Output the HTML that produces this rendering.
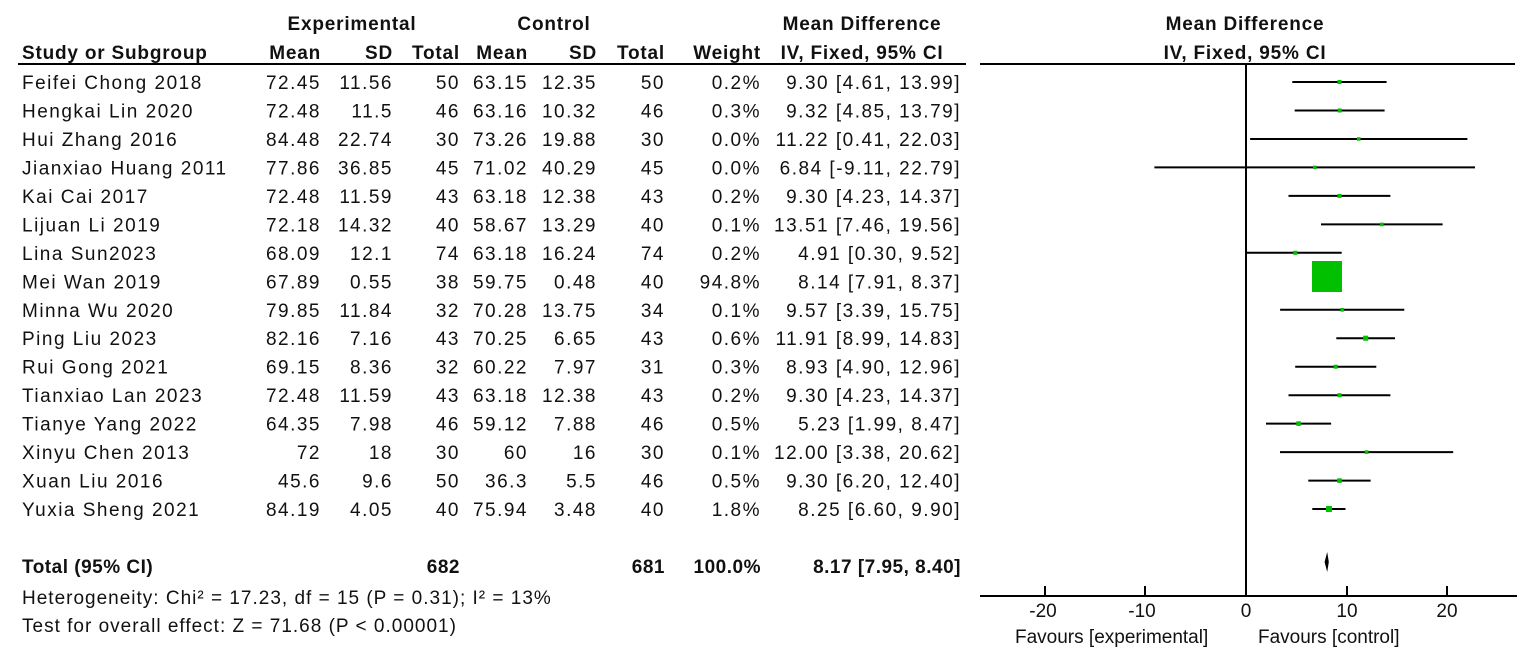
<!DOCTYPE html><html><head><meta charset="utf-8"><style>
body{margin:0;background:#fff}
svg{display:block}
text{font-family:"Liberation Sans",Arial,sans-serif;font-size:19px;fill:#111}
.b{font-weight:bold}
.r{text-anchor:end}
.c{text-anchor:middle}
#rows text{letter-spacing:1.5px}
.h text{letter-spacing:0.8px}
.t text{letter-spacing:0.5px}
.f{letter-spacing:1px}
</style></head><body>
<svg width="1535" height="665" viewBox="0 0 1535 665">
<g class="h">
<text x="352" y="30" class="c b">Experimental</text>
<text x="554" y="30" class="c b">Control</text>
<text x="862" y="30" class="c b">Mean Difference</text>
<text x="1245" y="30" class="c b">Mean Difference</text>
<text x="22" y="59" class="b">Study or Subgroup</text>
<text x="321" y="59" class="r b">Mean</text>
<text x="393" y="59" class="r b">SD</text>
<text x="460" y="59" class="r b">Total</text>
<text x="528" y="59" class="r b">Mean</text>
<text x="597" y="59" class="r b">SD</text>
<text x="665" y="59" class="r b">Total</text>
<text x="761" y="59" class="r b">Weight</text>
<text x="862" y="59" class="c b">IV, Fixed, 95% CI</text>
<text x="1245" y="59" class="c b">IV, Fixed, 95% CI</text>
</g>
<line x1="18" y1="64" x2="966" y2="64" stroke="#000" stroke-width="2"/>
<line x1="980" y1="64" x2="1515" y2="64" stroke="#000" stroke-width="2"/>
<line x1="1246" y1="64" x2="1246" y2="596" stroke="#000" stroke-width="2"/>
<line x1="980" y1="596" x2="1517" y2="596" stroke="#000" stroke-width="2"/>
<g stroke="#000" stroke-width="2">
<line x1="1045" y1="586" x2="1045" y2="596"/><line x1="1145" y1="586" x2="1145" y2="596"/><line x1="1246" y1="586" x2="1246" y2="596"/><line x1="1347" y1="586" x2="1347" y2="596"/><line x1="1447" y1="586" x2="1447" y2="596"/>
</g>
<text x="1043" y="617" class="c">-20</text><text x="1142" y="617" class="c">-10</text><text x="1246" y="617" class="c">0</text><text x="1347" y="617" class="c">10</text><text x="1447" y="617" class="c">20</text>
<text x="1015" y="643">Favours [experimental]</text><text x="1258" y="643">Favours [control]</text>

<g id="rows">
<text x="22" y="89">Feifei Chong 2018</text><text x="321" y="89" class="r">72.45</text><text x="393" y="89" class="r">11.56</text><text x="460" y="89" class="r">50</text><text x="528" y="89" class="r">63.15</text><text x="597" y="89" class="r">12.35</text><text x="665" y="89" class="r">50</text><text x="761" y="89" class="r">0.2%</text><text x="961" y="89" class="r">9.30 [4.61, 13.99]</text>
<text x="22" y="117.5">Hengkai Lin 2020</text><text x="321" y="117.5" class="r">72.48</text><text x="393" y="117.5" class="r">11.5</text><text x="460" y="117.5" class="r">46</text><text x="528" y="117.5" class="r">63.16</text><text x="597" y="117.5" class="r">10.32</text><text x="665" y="117.5" class="r">46</text><text x="761" y="117.5" class="r">0.3%</text><text x="961" y="117.5" class="r">9.32 [4.85, 13.79]</text>
<text x="22" y="146">Hui Zhang 2016</text><text x="321" y="146" class="r">84.48</text><text x="393" y="146" class="r">22.74</text><text x="460" y="146" class="r">30</text><text x="528" y="146" class="r">73.26</text><text x="597" y="146" class="r">19.88</text><text x="665" y="146" class="r">30</text><text x="761" y="146" class="r">0.0%</text><text x="961" y="146" class="r">11.22 [0.41, 22.03]</text>
<text x="22" y="174.4">Jianxiao Huang 2011</text><text x="321" y="174.4" class="r">77.86</text><text x="393" y="174.4" class="r">36.85</text><text x="460" y="174.4" class="r">45</text><text x="528" y="174.4" class="r">71.02</text><text x="597" y="174.4" class="r">40.29</text><text x="665" y="174.4" class="r">45</text><text x="761" y="174.4" class="r">0.0%</text><text x="961" y="174.4" class="r">6.84 [-9.11, 22.79]</text>
<text x="22" y="202.9">Kai Cai 2017</text><text x="321" y="202.9" class="r">72.48</text><text x="393" y="202.9" class="r">11.59</text><text x="460" y="202.9" class="r">43</text><text x="528" y="202.9" class="r">63.18</text><text x="597" y="202.9" class="r">12.38</text><text x="665" y="202.9" class="r">43</text><text x="761" y="202.9" class="r">0.2%</text><text x="961" y="202.9" class="r">9.30 [4.23, 14.37]</text>
<text x="22" y="231.4">Lijuan Li 2019</text><text x="321" y="231.4" class="r">72.18</text><text x="393" y="231.4" class="r">14.32</text><text x="460" y="231.4" class="r">40</text><text x="528" y="231.4" class="r">58.67</text><text x="597" y="231.4" class="r">13.29</text><text x="665" y="231.4" class="r">40</text><text x="761" y="231.4" class="r">0.1%</text><text x="961" y="231.4" class="r">13.51 [7.46, 19.56]</text>
<text x="22" y="259.8">Lina Sun2023</text><text x="321" y="259.8" class="r">68.09</text><text x="393" y="259.8" class="r">12.1</text><text x="460" y="259.8" class="r">74</text><text x="528" y="259.8" class="r">63.18</text><text x="597" y="259.8" class="r">16.24</text><text x="665" y="259.8" class="r">74</text><text x="761" y="259.8" class="r">0.2%</text><text x="961" y="259.8" class="r">4.91 [0.30, 9.52]</text>
<text x="22" y="288.3">Mei Wan 2019</text><text x="321" y="288.3" class="r">67.89</text><text x="393" y="288.3" class="r">0.55</text><text x="460" y="288.3" class="r">38</text><text x="528" y="288.3" class="r">59.75</text><text x="597" y="288.3" class="r">0.48</text><text x="665" y="288.3" class="r">40</text><text x="761" y="288.3" class="r">94.8%</text><text x="961" y="288.3" class="r">8.14 [7.91, 8.37]</text>
<text x="22" y="316.8">Minna Wu 2020</text><text x="321" y="316.8" class="r">79.85</text><text x="393" y="316.8" class="r">11.84</text><text x="460" y="316.8" class="r">32</text><text x="528" y="316.8" class="r">70.28</text><text x="597" y="316.8" class="r">13.75</text><text x="665" y="316.8" class="r">34</text><text x="761" y="316.8" class="r">0.1%</text><text x="961" y="316.8" class="r">9.57 [3.39, 15.75]</text>
<text x="22" y="345.2">Ping Liu 2023</text><text x="321" y="345.2" class="r">82.16</text><text x="393" y="345.2" class="r">7.16</text><text x="460" y="345.2" class="r">43</text><text x="528" y="345.2" class="r">70.25</text><text x="597" y="345.2" class="r">6.65</text><text x="665" y="345.2" class="r">43</text><text x="761" y="345.2" class="r">0.6%</text><text x="961" y="345.2" class="r">11.91 [8.99, 14.83]</text>
<text x="22" y="373.7">Rui Gong 2021</text><text x="321" y="373.7" class="r">69.15</text><text x="393" y="373.7" class="r">8.36</text><text x="460" y="373.7" class="r">32</text><text x="528" y="373.7" class="r">60.22</text><text x="597" y="373.7" class="r">7.97</text><text x="665" y="373.7" class="r">31</text><text x="761" y="373.7" class="r">0.3%</text><text x="961" y="373.7" class="r">8.93 [4.90, 12.96]</text>
<text x="22" y="402.2">Tianxiao Lan 2023</text><text x="321" y="402.2" class="r">72.48</text><text x="393" y="402.2" class="r">11.59</text><text x="460" y="402.2" class="r">43</text><text x="528" y="402.2" class="r">63.18</text><text x="597" y="402.2" class="r">12.38</text><text x="665" y="402.2" class="r">43</text><text x="761" y="402.2" class="r">0.2%</text><text x="961" y="402.2" class="r">9.30 [4.23, 14.37]</text>
<text x="22" y="430.6">Tianye Yang 2022</text><text x="321" y="430.6" class="r">64.35</text><text x="393" y="430.6" class="r">7.98</text><text x="460" y="430.6" class="r">46</text><text x="528" y="430.6" class="r">59.12</text><text x="597" y="430.6" class="r">7.88</text><text x="665" y="430.6" class="r">46</text><text x="761" y="430.6" class="r">0.5%</text><text x="961" y="430.6" class="r">5.23 [1.99, 8.47]</text>
<text x="22" y="459.1">Xinyu Chen 2013</text><text x="321" y="459.1" class="r">72</text><text x="393" y="459.1" class="r">18</text><text x="460" y="459.1" class="r">30</text><text x="528" y="459.1" class="r">60</text><text x="597" y="459.1" class="r">16</text><text x="665" y="459.1" class="r">30</text><text x="761" y="459.1" class="r">0.1%</text><text x="961" y="459.1" class="r">12.00 [3.38, 20.62]</text>
<text x="22" y="487.6">Xuan Liu 2016</text><text x="321" y="487.6" class="r">45.6</text><text x="393" y="487.6" class="r">9.6</text><text x="460" y="487.6" class="r">50</text><text x="528" y="487.6" class="r">36.3</text><text x="597" y="487.6" class="r">5.5</text><text x="665" y="487.6" class="r">46</text><text x="761" y="487.6" class="r">0.5%</text><text x="961" y="487.6" class="r">9.30 [6.20, 12.40]</text>
<text x="22" y="516">Yuxia Sheng 2021</text><text x="321" y="516" class="r">84.19</text><text x="393" y="516" class="r">4.05</text><text x="460" y="516" class="r">40</text><text x="528" y="516" class="r">75.94</text><text x="597" y="516" class="r">3.48</text><text x="665" y="516" class="r">40</text><text x="761" y="516" class="r">1.8%</text><text x="961" y="516" class="r">8.25 [6.60, 9.90]</text>
</g>
<g class="t">
<text x="22" y="573" class="b">Total (95% CI)</text><text x="460" y="573" class="r b">682</text><text x="665" y="573" class="r b">681</text><text x="761" y="573" class="r b">100.0%</text><text x="961" y="573" class="r b">8.17 [7.95, 8.40]</text>
</g>
<text x="22" y="604" class="f">Heterogeneity: Chi² = 17.23, df = 15 (P = 0.31); I² = 13%</text>
<text x="22" y="632" class="f">Test for overall effect: Z = 71.68 (P &lt; 0.00001)</text>

<g stroke="#000" stroke-width="2">
<line x1="1292.3" y1="82" x2="1386.6" y2="82"/>
<line x1="1294.7" y1="110.5" x2="1384.6" y2="110.5"/>
<line x1="1250.1" y1="139" x2="1467.4" y2="139"/>
<line x1="1154.4" y1="167.4" x2="1475" y2="167.4"/>
<line x1="1288.5" y1="195.9" x2="1390.4" y2="195.9"/>
<line x1="1321" y1="224.4" x2="1442.6" y2="224.4"/>
<line x1="1246" y1="252.8" x2="1341.7" y2="252.8"/>
<line x1="1280.1" y1="309.8" x2="1404.3" y2="309.8"/>
<line x1="1336.3" y1="338.2" x2="1395" y2="338.2"/>
<line x1="1295.2" y1="366.7" x2="1376.3" y2="366.7"/>
<line x1="1288.5" y1="395.2" x2="1390.4" y2="395.2"/>
<line x1="1266" y1="423.6" x2="1331.1" y2="423.6"/>
<line x1="1280" y1="452.1" x2="1453.2" y2="452.1"/>
<line x1="1308.3" y1="480.6" x2="1370.6" y2="480.6"/>
<line x1="1312.3" y1="509" x2="1345.5" y2="509"/>
</g>
<g fill="#00c000">
<rect x="1337.5" y="80" width="4" height="4"/>
<rect x="1337.7" y="108.5" width="4" height="4"/>
<rect x="1357" y="137.2" width="3.5" height="3.5"/>
<rect x="1313" y="165.6" width="3.5" height="3.5"/>
<rect x="1337.5" y="193.9" width="4" height="4"/>
<rect x="1380" y="222.6" width="3.6" height="3.6"/>
<rect x="1293.3" y="250.8" width="4" height="4"/>
<rect x="1312" y="261" width="30" height="31"/>
<rect x="1340.4" y="308" width="3.6" height="3.6"/>
<rect x="1363.2" y="335.7" width="5" height="5"/>
<rect x="1333.7" y="364.7" width="4" height="4"/>
<rect x="1337.5" y="393.2" width="4" height="4"/>
<rect x="1296.3" y="421.3" width="4.6" height="4.6"/>
<rect x="1364.8" y="450.3" width="3.6" height="3.6"/>
<rect x="1337.2" y="478.3" width="4.6" height="4.6"/>
<rect x="1325.9" y="506" width="6" height="6"/>
</g>
<polygon points="1324.6,562 1327.2,552 1328.8,562 1327.2,572" fill="#000"/>
</svg>
</body></html>
